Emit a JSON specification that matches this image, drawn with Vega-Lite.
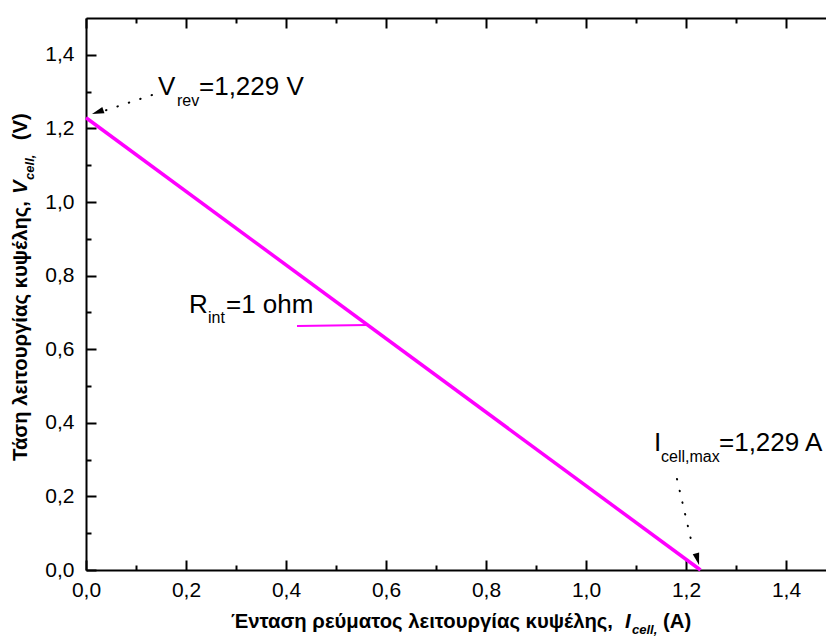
{
  "$schema": "https://vega.github.io/schema/vega-lite/v6.json",
  "autosize": "none",
  "width": 740,
  "height": 552,
  "padding": {"left": 86, "top": 18, "right": 0, "bottom": 72},
  "config": {"font": "Liberation Sans", "view": {"stroke": null},
    "axis": {"grid": false, "title": null, "tickWidth": 2, "tickColor": "#000", "domainColor": "#000", "domainWidth": 2,
      "labelFontSize": 21, "labelColor": "#000", "labelFlush": false, "labelOverlap": false}},
  "resolve": {"axis": {"x": "independent", "y": "independent"}},
  "layer": [
    {
      "data": {"values": [{"I": 0, "V": 1.229}, {"I": 1.229, "V": 0}]},
      "mark": {"type": "line", "color": "#FF00FF", "strokeWidth": 3.5},
      "encoding": {
        "x": {"field": "I", "type": "quantitative",
          "scale": {"domain": [0, 1.48], "nice": false, "zero": false},
          "axis": {"orient": "bottom", "values": [0, 0.2, 0.4, 0.6, 0.8, 1.0, 1.2, 1.4],
            "labelExpr": "replace(format(datum.value, '.1f'), '.', ',')",
            "tickSize": -10, "labelPadding": 19}},
        "y": {"field": "V", "type": "quantitative",
          "scale": {"domain": [0, 1.5], "nice": false, "zero": false},
          "axis": {"orient": "left", "values": [0, 0.2, 0.4, 0.6, 0.8, 1.0, 1.2, 1.4],
            "labelExpr": "replace(format(datum.value, '.1f'), '.', ',')",
            "tickSize": -10, "labelPadding": 22}}
      }
    },
    {
      "data": {"values": [{"I": 0, "V": 1.229}, {"I": 1.229, "V": 0}]},
      "mark": {"type": "line", "strokeOpacity": 0},
      "encoding": {
        "x": {"field": "I", "type": "quantitative",
          "axis": {"orient": "bottom", "values": [0.1, 0.3, 0.5, 0.7, 0.9, 1.1, 1.3], "labels": false, "domain": false, "tickSize": -5}},
        "y": {"field": "V", "type": "quantitative",
          "axis": {"orient": "left", "values": [0.1, 0.3, 0.5, 0.7, 0.9, 1.1, 1.3], "labels": false, "domain": false, "tickSize": -5}}
      }
    },
    {
      "data": {"values": [{"I": 0, "V": 1.229}, {"I": 1.229, "V": 0}]},
      "mark": {"type": "line", "strokeOpacity": 0},
      "encoding": {
        "x": {"field": "I", "type": "quantitative",
          "axis": {"orient": "top", "values": [0, 0.2, 0.4, 0.6, 0.8, 1.0, 1.2, 1.4], "labels": false, "tickSize": -10}},
        "y": {"field": "V", "type": "quantitative", "axis": null}
      }
    },
    {
      "data": {"values": [{"I": 0, "V": 1.229}, {"I": 1.229, "V": 0}]},
      "mark": {"type": "line", "strokeOpacity": 0},
      "encoding": {
        "x": {"field": "I", "type": "quantitative",
          "axis": {"orient": "top", "values": [0.1, 0.3, 0.5, 0.7, 0.9, 1.1, 1.3], "labels": false, "domain": false, "tickSize": -5}},
        "y": {"field": "V", "type": "quantitative", "axis": null}
      }
    },
    {
      "data": {"values": [{"x": 0.422, "y": 0.663}, {"x": 0.563, "y": 0.666}]},
      "mark": {"type": "line", "color": "#FF00FF", "strokeWidth": 2},
      "encoding": {
        "x": {"field": "x", "type": "quantitative", "axis": null},
        "y": {"field": "y", "type": "quantitative", "axis": null}
      }
    },
    {
      "data": {"values": [
        {"arrow": "Vrev", "x": 0.132, "y": 1.2908},
        {"arrow": "Vrev", "x": 0.04, "y": 1.2492},
        {"arrow": "Imax", "x": 1.182, "y": 0.2473},
        {"arrow": "Imax", "x": 1.212, "y": 0.0707}
      ]},
      "mark": {"type": "line", "color": "#000", "strokeWidth": 2, "strokeDash": [0.5, 11.5], "strokeCap": "round"},
      "encoding": {
        "x": {"field": "x", "type": "quantitative", "axis": null},
        "y": {"field": "y", "type": "quantitative", "axis": null},
        "detail": {"field": "arrow"}
      }
    },
    {
      "data": {"values": [{"x": 0.0234, "y": 1.2446}]},
      "mark": {"type": "point", "shape": "M0,-1L0.55,1L-0.55,1Z", "size": 144, "filled": true, "color": "#000", "opacity": 1, "angle": 251},
      "encoding": {
        "x": {"field": "x", "type": "quantitative", "axis": null},
        "y": {"field": "y", "type": "quantitative", "axis": null}
      }
    },
    {
      "data": {"values": [{"x": 1.223, "y": 0.0293}]},
      "mark": {"type": "point", "shape": "M0,-1L0.55,1L-0.55,1Z", "size": 144, "filled": true, "color": "#000", "opacity": 1, "angle": 165},
      "encoding": {
        "x": {"field": "x", "type": "quantitative", "axis": null},
        "y": {"field": "y", "type": "quantitative", "axis": null}
      }
    },
    {
      "data": {"values": [
        {"t": "V", "x": 0.144, "y": 1.2908},
        {"t": "=1,229 V", "x": 0.226, "y": 1.2908},
        {"t": "R", "x": 0.206, "y": 0.6984},
        {"t": "=1 ohm", "x": 0.28, "y": 0.6984},
        {"t": "I", "x": 1.136, "y": 0.3234},
        {"t": "=1,229 A", "x": 1.266, "y": 0.3234}
      ]},
      "mark": {"type": "text", "fontSize": 26, "align": "left", "baseline": "alphabetic", "color": "#000"},
      "encoding": {
        "x": {"field": "x", "type": "quantitative", "axis": null},
        "y": {"field": "y", "type": "quantitative", "axis": null},
        "text": {"field": "t"}
      }
    },
    {
      "data": {"values": [
        {"t": "rev", "x": 0.182, "y": 1.2609},
        {"t": "int", "x": 0.244, "y": 0.6712},
        {"t": "cell,max", "x": 1.15, "y": 0.2935}
      ]},
      "mark": {"type": "text", "fontSize": 16, "align": "left", "baseline": "alphabetic", "color": "#000"},
      "encoding": {
        "x": {"field": "x", "type": "quantitative", "axis": null},
        "y": {"field": "y", "type": "quantitative", "axis": null},
        "text": {"field": "t"}
      }
    },
    {
      "data": {"values": [{"t": "Ένταση ρεύματος λειτουργίας κυψέλης,", "x": 1.054, "y": -0.1576}]},
      "mark": {"type": "text", "fontSize": 20.3, "fontWeight": "bold", "align": "right", "baseline": "alphabetic", "color": "#000"},
      "encoding": {
        "x": {"field": "x", "type": "quantitative", "axis": null},
        "y": {"field": "y", "type": "quantitative", "axis": null},
        "text": {"field": "t"}
      }
    },
    {
      "data": {"values": [{"t": "I", "x": 1.078, "y": -0.1576}]},
      "mark": {"type": "text", "fontSize": 20.3, "fontWeight": "bold", "fontStyle": "italic", "align": "left", "baseline": "alphabetic", "color": "#000"},
      "encoding": {
        "x": {"field": "x", "type": "quantitative", "axis": null},
        "y": {"field": "y", "type": "quantitative", "axis": null},
        "text": {"field": "t"}
      }
    },
    {
      "data": {"values": [{"t": "cell,", "x": 1.092, "y": -0.1739}]},
      "mark": {"type": "text", "fontSize": 13, "fontWeight": "bold", "fontStyle": "italic", "align": "left", "baseline": "alphabetic", "color": "#000"},
      "encoding": {
        "x": {"field": "x", "type": "quantitative", "axis": null},
        "y": {"field": "y", "type": "quantitative", "axis": null},
        "text": {"field": "t"}
      }
    },
    {
      "data": {"values": [{"t": "(A)", "x": 1.154, "y": -0.1576}]},
      "mark": {"type": "text", "fontSize": 20.3, "fontWeight": "bold", "align": "left", "baseline": "alphabetic", "color": "#000"},
      "encoding": {
        "x": {"field": "x", "type": "quantitative", "axis": null},
        "y": {"field": "y", "type": "quantitative", "axis": null},
        "text": {"field": "t"}
      }
    },
    {
      "data": {"values": [{"t": "Τάση λειτουργίας κυψέλης,", "x": -0.118, "y": 1.0027}]},
      "mark": {"type": "text", "fontSize": 20.3, "fontWeight": "bold", "angle": 270, "align": "right", "baseline": "alphabetic", "color": "#000"},
      "encoding": {
        "x": {"field": "x", "type": "quantitative", "axis": null},
        "y": {"field": "y", "type": "quantitative", "axis": null},
        "text": {"field": "t"}
      }
    },
    {
      "data": {"values": [{"t": "V", "x": -0.118, "y": 1.0217}]},
      "mark": {"type": "text", "fontSize": 20.3, "fontWeight": "bold", "fontStyle": "italic", "angle": 270, "align": "left", "baseline": "alphabetic", "color": "#000"},
      "encoding": {
        "x": {"field": "x", "type": "quantitative", "axis": null},
        "y": {"field": "y", "type": "quantitative", "axis": null},
        "text": {"field": "t"}
      }
    },
    {
      "data": {"values": [{"t": "cell,", "x": -0.104, "y": 1.06}]},
      "mark": {"type": "text", "fontSize": 13, "fontWeight": "bold", "fontStyle": "italic", "angle": 270, "align": "left", "baseline": "alphabetic", "color": "#000"},
      "encoding": {
        "x": {"field": "x", "type": "quantitative", "axis": null},
        "y": {"field": "y", "type": "quantitative", "axis": null},
        "text": {"field": "t"}
      }
    },
    {
      "data": {"values": [{"t": "(V)", "x": -0.118, "y": 1.168}]},
      "mark": {"type": "text", "fontSize": 20.3, "fontWeight": "bold", "angle": 270, "align": "left", "baseline": "alphabetic", "color": "#000"},
      "encoding": {
        "x": {"field": "x", "type": "quantitative", "axis": null},
        "y": {"field": "y", "type": "quantitative", "axis": null},
        "text": {"field": "t"}
      }
    }
  ]
}
